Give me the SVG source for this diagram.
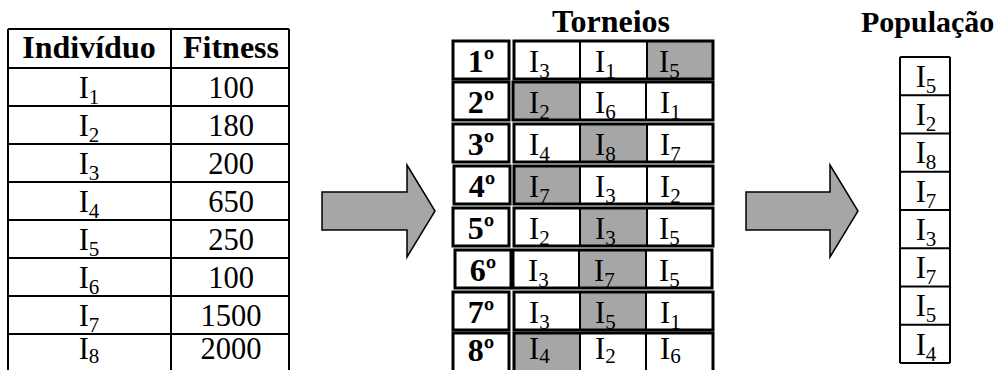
<svg xmlns="http://www.w3.org/2000/svg" width="999" height="370" viewBox="0 0 999 370">
<style>
text{font-family:'Liberation Serif',Tinos,'Times New Roman','Nimbus Roman',Times,serif;font-size:30.5px;fill:#000}
.b{font-weight:bold;font-size:32px}
.s{font-size:21px}
.ln{stroke:#000;stroke-width:2;fill:none}
.bx{stroke:#000;stroke-width:3;fill:none}
.g{fill:#a6a6a6}
.ar{fill:#a6a6a6;stroke:#000;stroke-width:1.5;stroke-linejoin:miter}
</style>
<rect width="999" height="370" fill="#fff"/>

<g id="fitness-table">
<path class="ln" d="M8,29V370M171,29V370M289,29V370M8,29H289M8,68H289M8,106H289M8,144H289M8,182H289M8,220H289M8,258H289M8,296H289M8,334H289"/>
<g id="hdr"><text class="b" x="89" y="58" text-anchor="middle">Indivíduo</text><text class="b" x="231" y="58" text-anchor="middle">Fitness</text></g>
<g id="r1"><text x="89" y="98" text-anchor="middle">I<tspan class="s" dy="6">1</tspan></text><text x="231" y="98" text-anchor="middle">100</text></g>
<g id="r2"><text x="89" y="136" text-anchor="middle">I<tspan class="s" dy="6">2</tspan></text><text x="231" y="136" text-anchor="middle">180</text></g>
<g id="r3"><text x="89" y="174" text-anchor="middle">I<tspan class="s" dy="6">3</tspan></text><text x="231" y="174" text-anchor="middle">200</text></g>
<g id="r4"><text x="89" y="212" text-anchor="middle">I<tspan class="s" dy="6">4</tspan></text><text x="231" y="212" text-anchor="middle">650</text></g>
<g id="r5"><text x="89" y="250" text-anchor="middle">I<tspan class="s" dy="6">5</tspan></text><text x="231" y="250" text-anchor="middle">250</text></g>
<g id="r6"><text x="89" y="288" text-anchor="middle">I<tspan class="s" dy="6">6</tspan></text><text x="231" y="288" text-anchor="middle">100</text></g>
<g id="r7"><text x="89" y="326" text-anchor="middle">I<tspan class="s" dy="6">7</tspan></text><text x="231" y="326" text-anchor="middle">1500</text></g>
<g id="r8"><text x="89" y="359" text-anchor="middle">I<tspan class="s" dy="4">8</tspan></text><text x="231" y="359" text-anchor="middle">2000</text></g>
</g>

<g id="connectors">
<path class="ar" d="M322,192H407V165L435,211L407,257V230H322Z"/>
<path class="ar" d="M746,192H830V165L858,211L830,257V230H746Z"/>
</g>

<g id="torneios">
<text class="b" x="611" y="32" text-anchor="middle">Torneios</text>
<g id="t1">
<rect class="g" x="647" y="41" width="66" height="38"/>
<rect class="bx" x="453" y="41" width="56" height="38"/>
<rect class="bx" x="514" y="41" width="199" height="38"/>
<path class="ln" d="M580,41V79M647,41V79"/>
<text class="b" x="481" y="72" text-anchor="middle">1º</text>
<text x="529" y="72">I<tspan class="s" dy="6">3</tspan></text>
<text x="595" y="72">I<tspan class="s" dy="6">1</tspan></text>
<text x="659" y="72">I<tspan class="s" dy="6">5</tspan></text>
</g>
<g id="t2">
<rect class="g" x="513" y="82" width="67" height="38"/>
<rect class="bx" x="453" y="82" width="56" height="38"/>
<rect class="bx" x="513" y="82" width="200" height="38"/>
<path class="ln" d="M580,82V120M646,82V120"/>
<text class="b" x="481" y="113" text-anchor="middle">2º</text>
<text x="529" y="113">I<tspan class="s" dy="6">2</tspan></text>
<text x="595" y="113">I<tspan class="s" dy="6">6</tspan></text>
<text x="660" y="113">I<tspan class="s" dy="6">1</tspan></text>
</g>
<g id="t3">
<rect class="g" x="580" y="124" width="67" height="38"/>
<rect class="bx" x="453" y="124" width="56" height="38"/>
<rect class="bx" x="514" y="124" width="199" height="38"/>
<path class="ln" d="M580,124V162M647,124V162"/>
<text class="b" x="481" y="155" text-anchor="middle">3º</text>
<text x="529" y="155">I<tspan class="s" dy="6">4</tspan></text>
<text x="595" y="155">I<tspan class="s" dy="6">8</tspan></text>
<text x="660" y="155">I<tspan class="s" dy="6">7</tspan></text>
</g>
<g id="t4">
<rect class="g" x="514" y="166" width="66" height="38"/>
<rect class="bx" x="454" y="166" width="56" height="38"/>
<rect class="bx" x="514" y="166" width="199" height="38"/>
<path class="ln" d="M580,166V204M647,166V204"/>
<text class="b" x="482" y="197" text-anchor="middle">4º</text>
<text x="529" y="197">I<tspan class="s" dy="6">7</tspan></text>
<text x="595" y="197">I<tspan class="s" dy="6">3</tspan></text>
<text x="660" y="197">I<tspan class="s" dy="6">2</tspan></text>
</g>
<g id="t5">
<rect class="g" x="580" y="208" width="67" height="38"/>
<rect class="bx" x="453" y="208" width="56" height="38"/>
<rect class="bx" x="514" y="208" width="199" height="38"/>
<path class="ln" d="M580,208V246M647,208V246"/>
<text class="b" x="481" y="239" text-anchor="middle">5º</text>
<text x="529" y="239">I<tspan class="s" dy="6">2</tspan></text>
<text x="595" y="239">I<tspan class="s" dy="6">3</tspan></text>
<text x="659" y="239">I<tspan class="s" dy="6">5</tspan></text>
</g>
<g id="t6">
<rect class="g" x="579" y="250" width="67" height="38"/>
<rect class="bx" x="455" y="250" width="56" height="38"/>
<rect class="bx" x="513" y="250" width="199" height="38"/>
<path class="ln" d="M579,250V288M646,250V288"/>
<text class="b" x="483" y="281" text-anchor="middle">6º</text>
<text x="528" y="281">I<tspan class="s" dy="6">3</tspan></text>
<text x="594" y="281">I<tspan class="s" dy="6">7</tspan></text>
<text x="659" y="281">I<tspan class="s" dy="6">5</tspan></text>
</g>
<g id="t7">
<rect class="g" x="580" y="292" width="66" height="38"/>
<rect class="bx" x="453" y="292" width="56" height="38"/>
<rect class="bx" x="514" y="292" width="199" height="38"/>
<path class="ln" d="M580,292V330M646,292V330"/>
<text class="b" x="481" y="323" text-anchor="middle">7º</text>
<text x="529" y="323">I<tspan class="s" dy="6">3</tspan></text>
<text x="595" y="323">I<tspan class="s" dy="6">5</tspan></text>
<text x="660" y="323">I<tspan class="s" dy="6">1</tspan></text>
</g>
<g id="t8">
<rect class="g" x="514" y="333" width="66" height="40"/>
<rect class="bx" x="453" y="333" width="56" height="40"/>
<rect class="bx" x="514" y="333" width="199" height="40"/>
<path class="ln" d="M580,333V373M646,333V373"/>
<text class="b" x="481" y="361" text-anchor="middle">8º</text>
<text x="529" y="359">I<tspan class="s" dy="4">4</tspan></text>
<text x="595" y="359">I<tspan class="s" dy="4">2</tspan></text>
<text x="660" y="359">I<tspan class="s" dy="4">6</tspan></text>
</g>
</g>

<g id="populacao">
<text class="b" x="861" y="32" style="font-size:30px">População</text>
<path class="ln" d="M900,57V363M950,57V363M900,57H950M900,95.3H950M900,133.5H950M900,171.8H950M900,210H950M900,248.3H950M900,286.5H950M900,324.8H950M900,363H950"/>
<text x="926" y="87" text-anchor="middle">I<tspan class="s" dy="6">5</tspan></text>
<text x="926" y="125" text-anchor="middle">I<tspan class="s" dy="6">2</tspan></text>
<text x="926" y="163" text-anchor="middle">I<tspan class="s" dy="6">8</tspan></text>
<text x="926" y="202" text-anchor="middle">I<tspan class="s" dy="6">7</tspan></text>
<text x="926" y="240" text-anchor="middle">I<tspan class="s" dy="6">3</tspan></text>
<text x="926" y="278" text-anchor="middle">I<tspan class="s" dy="6">7</tspan></text>
<text x="926" y="316" text-anchor="middle">I<tspan class="s" dy="6">5</tspan></text>
<text x="926" y="355" text-anchor="middle">I<tspan class="s" dy="6">4</tspan></text>
</g>
</svg>
